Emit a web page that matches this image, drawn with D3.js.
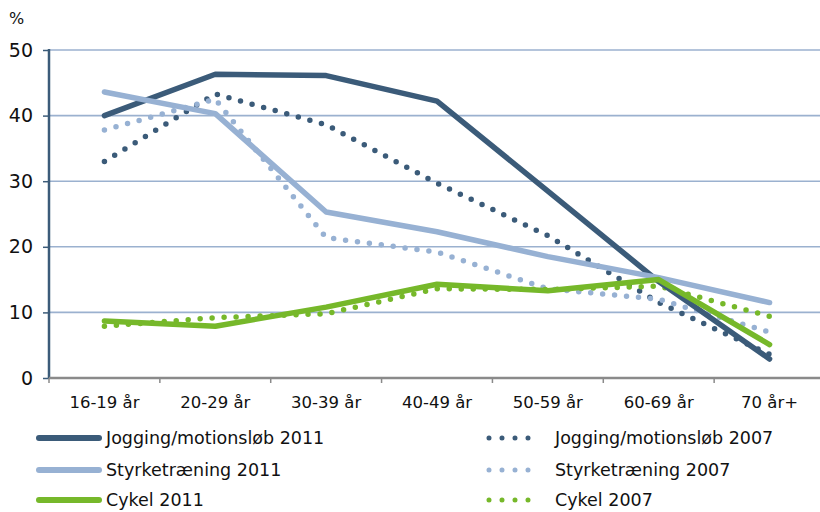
<!DOCTYPE html>
<html>
<head>
<meta charset="utf-8">
<script src="https://cdn.jsdelivr.net/npm/d3@7"></script>
<style>
  body { margin: 0; background: #fff; }
  text { font-family: "DejaVu Sans", sans-serif; fill: #111; }
</style>
</head>
<body>
<svg id="chart" width="820" height="512"></svg>
<script>
// categories and tick labels
const categories = ['16-19 år', '20-29 år', '30-39 år', '40-49 år', '50-59 år', '60-69 år', '70 år+']
const yTicks = [0, 10, 20, 30, 40, 50]

// series values (%)
const jogging2011 = [40, 46.3, 46.1, 42.2, 28.5, 14.7, 2.9]
const jogging2007 = [33, 43.3, 38.6, 29.7, 21.7, 11.5, 3.6]
const styrke2011 = [43.6, 40.3, 25.3, 22.3, 18.5, 15.3, 11.5]
const styrke2007 = [37.8, 42.5, 21.4, 19.2, 13.6, 12.0, 7.0]
const cykel2011 = [8.7, 7.9, 10.8, 14.3, 13.3, 15.0, 5.1]
const cykel2007 = [7.9, 9.2, 9.8, 13.6, 13.5, 14.0, 9.4]

const dark = '#3b5b79', light = '#97b1d3', green = '#76b82a'

const series = [
    { name: 'Jogging/motionsløb 2011', values: jogging2011, color: dark, dotted: false },
    { name: 'Jogging/motionsløb 2007', values: jogging2007, color: dark, dotted: true },
    { name: 'Styrketræning 2011', values: styrke2011, color: light, dotted: false },
    { name: 'Styrketræning 2007', values: styrke2007, color: light, dotted: true },
    { name: 'Cykel 2011', values: cykel2011, color: green, dotted: false },
    { name: 'Cykel 2007', values: cykel2007, color: green, dotted: true }
]

const svg = d3.select('#chart')
const plotLeft = 49, plotTop = 50, plotBottom = 378, plotRight = 825

let x = d3.scaleBand().domain(categories).range([plotLeft, plotRight])
let y = d3.scaleLinear().domain([0, 50]).range([plotBottom, plotTop])

// gridlines
svg.append('g')
    .selectAll('line')
    .data(yTicks.filter(d => d > 0))
    .join('line')
    .attr('x1', plotLeft).attr('x2', 820)
    .attr('y1', d => y(d)).attr('y2', d => y(d))
    .style('stroke', '#9bb1cf')
    .attr('stroke-width', 1.6)

// y axis
let yAxis = svg.append('g')
    .attr('transform', 'translate(' + plotLeft + ',0)')
    .call(d3.axisLeft(y).tickValues(yTicks).tickSize(6).tickPadding(10))
yAxis.select('.domain').remove()
yAxis.selectAll('.tick line').style('stroke', '#3b5b79').attr('stroke-width', 1.5)
yAxis.selectAll('.tick text').style('font-size', '19px').style('fill', '#111')
svg.append('line')
    .attr('x1', plotLeft).attr('x2', plotLeft)
    .attr('y1', plotTop - 1).attr('y2', plotBottom)
    .style('stroke', '#3b5b79').attr('stroke-width', 2.5)

// x axis
let xAxis = svg.append('g')
    .attr('transform', 'translate(0,' + plotBottom + ')')
    .call(d3.axisBottom(x).tickSize(0).tickPadding(18))
xAxis.select('.domain').remove()
xAxis.selectAll('.tick text').style('font-size', '16.5px').style('fill', '#111')
svg.append('g')
    .selectAll('line')
    .data(categories)
    .join('line')
    .attr('x1', d => x(d)).attr('x2', d => x(d))
    .attr('y1', plotBottom).attr('y2', plotBottom + 5)
    .style('stroke', '#8a8a8a').attr('stroke-width', 1.5)
svg.append('line')
    .attr('x1', plotLeft).attr('x2', 820)
    .attr('y1', plotBottom).attr('y2', plotBottom)
    .style('stroke', '#8a8a8a').attr('stroke-width', 2.5)

svg.append('text')
    .attr('x', 9).attr('y', 24)
    .style('font-size', '16px')
    .text('%')

// lines (dotted drawn first, solid on top)
let lineGen = d3.line()
    .x((d, i) => x(categories[i]) + x.bandwidth() / 2)
    .y(d => y(d))

const drawOrder = [1, 3, 5, 0, 2, 4]
drawOrder.forEach(function (k) {
    let s = series[k]
    let path = svg.append('path')
        .attr('d', lineGen(s.values))
        .style('fill', 'none')
        .style('stroke', s.color)
        .attr('stroke-linejoin', 'round')
        .attr('stroke-linecap', 'round')
        .attr('stroke-width', 5.5)
    if (s.dotted) {
        path.style('stroke-dasharray', '0,12')
    }
})

// legend
const legendRows = [438, 470, 500]
series.forEach(function (s, i) {
    let row = legendRows[Math.floor(i / 2)]
    let g = svg.append('g')
    if (!s.dotted) {
        g.append('line')
            .attr('x1', 39).attr('x2', 99)
            .attr('y1', row).attr('y2', row)
            .style('stroke', s.color)
            .attr('stroke-width', 6)
            .attr('stroke-linecap', 'round')
        g.append('text')
            .attr('x', 106).attr('y', row)
            .attr('dy', '0.35em')
            .style('font-size', '17.5px')
            .text(s.name)
    } else {
        g.append('line')
            .attr('x1', 489).attr('x2', 541)
            .attr('y1', row).attr('y2', row)
            .style('stroke', s.color)
            .attr('stroke-width', 5)
            .attr('stroke-linecap', 'round')
            .style('stroke-dasharray', '0,13')
        g.append('text')
            .attr('x', 555).attr('y', row)
            .attr('dy', '0.35em')
            .style('font-size', '17.5px')
            .text(s.name)
    }
})
</script>
</body>
</html>
